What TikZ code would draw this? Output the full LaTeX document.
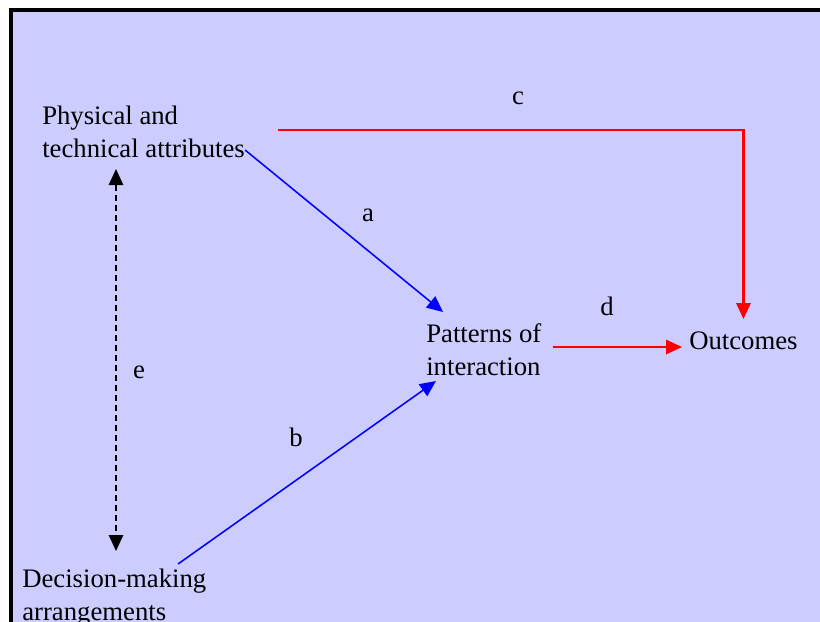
\documentclass[tikz,border=0pt]{standalone}
\usepackage{fontspec}
\setmainfont{Liberation Serif}
\usetikzlibrary{arrows.meta,calc}
\definecolor{panel}{HTML}{CCCCFF}
\tikzset{
  frame/.style={fill=panel, draw=black, line width=0.1cm},
  lbl/.style={inner sep=0pt, align=left, font=\fontsize{19}{22.8}\selectfont},
  tag/.style={inner sep=0pt, font=\fontsize{19}{22.8}\selectfont},
  bluearrow/.style={draw=blue, line width=1.1pt, -{Triangle[length=0.4cm, width=0.36cm]}},
  redarrow/.style={draw=red, line width=1.5pt, -{Triangle[length=0.4cm, width=0.36cm]}},
  linkarrow/.style={draw=black, line width=1.1pt, dash pattern=on 0.15cm off 0.1cm,
    {Triangle[length=0.4cm, width=0.36cm]}-{Triangle[length=0.4cm, width=0.36cm]}},
}

\begin{document}
\begin{tikzpicture}[x=0.025cm, y=-0.025cm]
\useasboundingbox (0,0) rectangle (820,621);
\draw[frame] (11,10) rectangle (840,640);
% the four boxes of the model
\node[lbl, anchor=base west] (phys) at (42,157) {Physical and\\technical attributes};
\node[lbl, anchor=base west] (dec) at (22,620) {Decision-making\\arrangements};
\node[lbl, anchor=base west] (pat) at (426,375) {Patterns of\\interaction};
\node[lbl, anchor=base west] (out) at (689,349) {Outcomes};
% links
\draw[bluearrow] ($(phys.base east)+(0,-7)$) -- ($(pat.base west)+(17,-63)$);
\draw[bluearrow] ($(dec.base west)+(156,-56)$) -- ($(pat.base west)+(10,6)$);
\coordinate (d0) at ($(pat.base east)+(11,-28)$);
\coordinate (d1) at ($(out.base west)+(-7,0)$);
\draw[redarrow] (d0) -- (d0 -| d1);
\coordinate (c0) at ($(phys.base east)+(33,-27)$);
\draw[redarrow] (c0) -| ($(out.base)+(0,-30)$);
\draw[linkarrow] ($(phys.base west)+(74,12)$) -- ($(dec.base west)+(94,-69)$);
% link letters
\node[tag, anchor=base] (la) at (368,221) {a};
\node[tag, anchor=base] (lb) at (296,446) {b};
\node[tag, anchor=base] (lc) at (518,104) {c};
\node[tag, anchor=base] (ld) at (607,315) {d};
\node[tag, anchor=base] (le) at (139,378) {e};
\end{tikzpicture}
\end{document}
